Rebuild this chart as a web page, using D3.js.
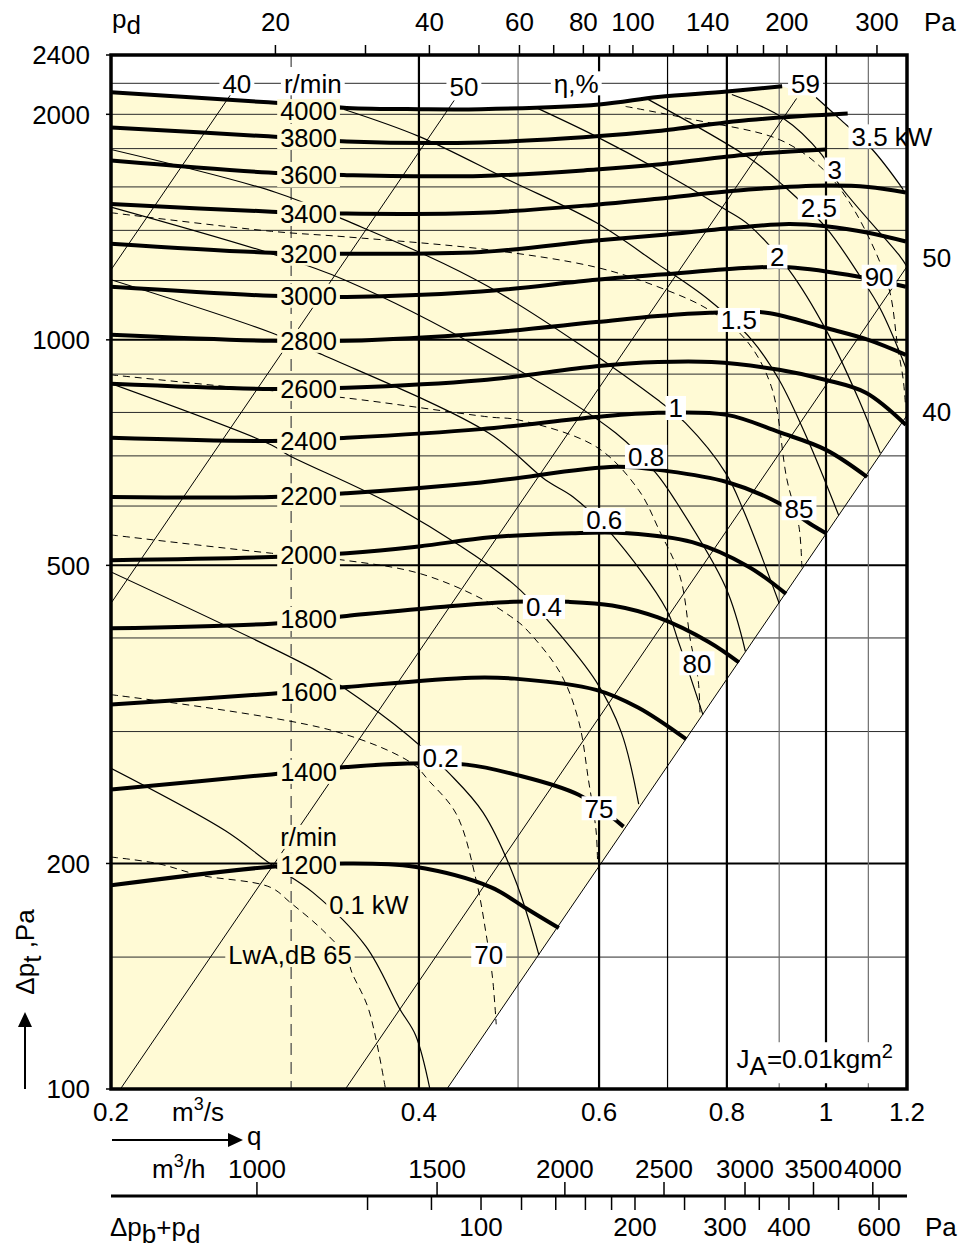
<!DOCTYPE html>
<html>
<head>
<meta charset="utf-8">
<script src="https://cdn.jsdelivr.net/npm/d3@7"></script>
<style>
  body { margin: 0; background: #fff; }
  text { font-family: "Liberation Sans", Arial, sans-serif; fill: #000; }
</style>
</head>
<body>
<svg id="chart" width="977" height="1249"></svg>
<script>
// ---- axes / ticks ----
const qLabels = [0.2, 0.4, 0.6, 0.8, 1, 1.2]
const qGrid = [0.3, 0.4, 0.5, 0.6, 0.7, 0.8, 0.9, 1.0, 1.1]
const pLabels = [100, 200, 500, 1000, 2000, 2400]
const pGrid = [150, 200, 300, 400, 500, 600, 700, 800, 900, 1000, 1200, 1400, 1600, 1800, 2000, 2200]
const pdTicks = [20, 30, 40, 50, 60, 70, 80, 90, 100, 120, 140, 160, 180, 200, 250, 300]
const pdLabels = [20, 40, 60, 80, 100, 140, 200, 300]
const flowLabels = [1000, 1500, 2000, 2500, 3000, 3500, 4000]
const dpbTicks = [60, 80, 100, 120, 140, 160, 180, 200, 250, 300, 350, 400, 500, 600]
const dpbLabels = [100, 200, 300, 400, 600]
const pdFactor = 238.5 // p_d = factor * q^2
const dpbFactor = 472.6 // dp_b + p_d = factor * q^2

// ---- fan curves [q m3/s, dp Pa] ----
const rpmSpeeds = [4000, 3800, 3600, 3400, 3200, 3000, 2800, 2600, 2400, 2200, 2000, 1800, 1600, 1400, 1200]
const rpmLabelP = [2020, 1863, 1659, 1474, 1303, 1145, 997, 860, 733, 620, 516, 424, 339, 265, 199]
const rpm4000 = [[0.2, 2140], [0.285, 2075], [0.34, 2040], [0.40, 2032], [0.46, 2032], [0.60, 2062], [0.685, 2110], [0.80, 2145], [0.906, 2180]]
const rpm3800 = [[0.2, 1921], [0.285, 1869], [0.34, 1840], [0.46, 1834], [0.596, 1869], [0.685, 1900], [0.84, 1965], [1.05, 2005]]
const rpm3600 = [[0.2, 1735], [0.285, 1672], [0.34, 1659], [0.46, 1655], [0.596, 1688], [0.685, 1714], [0.84, 1768], [1.0, 1795]]
const rpm3400 = [[0.2, 1518], [0.287, 1483], [0.34, 1474], [0.46, 1478], [0.596, 1515], [0.685, 1543], [0.84, 1587], [1.0, 1607], [1.1, 1600], [1.197, 1573]]
const rpm3200 = [[0.2, 1344], [0.287, 1307], [0.34, 1303], [0.46, 1310], [0.596, 1357], [0.685, 1379], [0.82, 1412], [0.92, 1428], [1.0, 1418], [1.1, 1390], [1.197, 1353]]
const rpm3000 = [[0.2, 1177], [0.287, 1145], [0.34, 1141], [0.46, 1160], [0.596, 1203], [0.69, 1222], [0.84, 1248], [0.92, 1250], [1.077, 1214], [1.197, 1177]]
const rpm2800 = [[0.2, 1016], [0.287, 997], [0.34, 997], [0.46, 1020], [0.596, 1056], [0.685, 1076], [0.77, 1087], [0.874, 1087], [1.0, 1037], [1.1, 1000], [1.197, 955]]
const rpm2600 = [[0.2, 874], [0.287, 860], [0.34, 863], [0.46, 883], [0.596, 922], [0.685, 934], [0.773, 934], [0.9, 912], [1.0, 884], [1.094, 850], [1.197, 770]]
const rpm2400 = [[0.2, 740], [0.287, 733], [0.34, 740], [0.46, 760], [0.596, 789], [0.685, 799], [0.8, 794], [0.9, 753], [1.0, 713], [1.097, 656]]
const rpm2200 = [[0.2, 617], [0.287, 617], [0.34, 624], [0.46, 645], [0.623, 677], [0.70, 668], [0.8, 646], [0.896, 607], [0.969, 566], [1.0, 552]]
const rpm2000 = [[0.2, 508], [0.287, 513], [0.34, 519], [0.40, 530], [0.47, 545], [0.564, 552], [0.64, 552], [0.74, 537], [0.84, 498], [0.914, 458]]
const rpm1800 = [[0.2, 412], [0.287, 418], [0.34, 428], [0.42, 440], [0.495, 447], [0.56, 447], [0.618, 442], [0.685, 426], [0.768, 395], [0.822, 371]]
const rpm1600 = [[0.2, 326], [0.287, 337], [0.34, 344], [0.45, 354], [0.496, 353], [0.596, 341], [0.655, 323], [0.73, 293]]
const rpm1400 = [[0.2, 251], [0.287, 263], [0.34, 269], [0.39, 272], [0.445, 271], [0.496, 263], [0.573, 247], [0.634, 224]]
const rpm1200 = [[0.2, 187], [0.287, 198], [0.34, 200], [0.396, 198], [0.47, 186], [0.51, 174], [0.548, 164]]
const rpmCurves = [rpm4000, rpm3800, rpm3600, rpm3400, rpm3200, rpm3000, rpm2800, rpm2600, rpm2400, rpm2200, rpm2000, rpm1800, rpm1600, rpm1400, rpm1200]

// ---- efficiency lines (eta %) ----
const eff40L = [[0.2, 1240], [0.262, 2128]]
const eff50L = [[0.2, 445], [0.433, 2087]]
const eff59 = [[0.2043, 100], [0.936, 2100]]
const eff50R = [[0.339, 100], [1.2, 1253]]
const eff40R = [[0.426, 100], [1.2, 793]]
const effLines = [eff40L, eff50L, eff59, eff50R, eff40R]

// ---- shaft power lines (kW) ----
const pw01 = [[0.2, 268], [0.259, 221], [0.286, 200], [0.315, 183], [0.355, 155], [0.383, 128], [0.397, 118], [0.41, 100]]
const pw02 = [[0.2, 490], [0.315, 364], [0.338, 343], [0.391, 296], [0.428, 264], [0.462, 234], [0.497, 190], [0.524, 151]]
const pw04 = [[0.2, 874], [0.287, 724], [0.298, 702], [0.382, 596], [0.495, 472], [0.538, 418], [0.596, 350], [0.631, 299], [0.656, 240]]
const pw06 = [[0.2, 1203], [0.287, 1022], [0.322, 955], [0.468, 751], [0.532, 650], [0.566, 617], [0.616, 552], [0.698, 437], [0.718, 394], [0.758, 316]]
const pw08 = [[0.2, 1504], [0.287, 1303], [0.338, 1203], [0.468, 961], [0.623, 751], [0.682, 664], [0.712, 611], [0.798, 467], [0.834, 384]]
const pw10 = [[0.2, 1795], [0.29, 1573], [0.338, 1447], [0.468, 1177], [0.685, 831], [0.729, 774], [0.798, 664], [0.83, 593], [0.9, 445]]
const pw15 = [[0.338, 2030], [0.40, 1869], [0.489, 1636], [0.596, 1434], [0.685, 1262], [0.768, 1131], [0.846, 1000], [0.90, 884], [0.96, 735], [1.029, 583]]
const pw20 = [[0.52, 2043], [0.596, 1869], [0.685, 1688], [0.798, 1492], [0.84, 1425], [0.92, 1240], [1.0, 1031], [1.077, 831], [1.13, 706]]
const pw25 = [[0.67, 2094], [0.84, 1751], [0.906, 1612], [1.0, 1412], [1.077, 1222], [1.13, 1100], [1.2, 910]]
const pw30 = [[0.809, 2126], [0.906, 1981], [0.99, 1768], [1.03, 1612], [1.178, 1299], [1.2, 1252]]
const pw35 = [[0.978, 2106], [1.03, 1975], [1.11, 1795], [1.19, 1587]]
const powerLines = [pw01, pw02, pw04, pw06, pw08, pw10, pw15, pw20, pw25, pw30, pw35]

// ---- sound power lines LwA dB ----
const db65 = [[0.2, 204], [0.222, 200], [0.244, 193], [0.286, 186], [0.3, 177], [0.322, 163], [0.34, 150], [0.344, 143], [0.357, 128], [0.371, 100]]
const db70 = [[0.2, 336], [0.329, 301], [0.394, 272], [0.409, 258], [0.435, 233], [0.455, 190], [0.466, 159], [0.472, 141], [0.476, 122]]
const db75 = [[0.2, 549], [0.287, 519], [0.338, 508], [0.40, 488], [0.461, 451], [0.498, 422], [0.51, 410], [0.55, 359], [0.573, 310], [0.586, 258], [0.596, 221], [0.598, 200]]
const db80 = [[0.2, 898], [0.26, 866], [0.338, 837], [0.468, 789], [0.50, 782], [0.596, 720], [0.656, 630], [0.687, 557], [0.72, 483], [0.737, 397], [0.75, 351], [0.753, 317]]
const db85 = [[0.2, 1478], [0.287, 1396], [0.338, 1373], [0.468, 1319], [0.596, 1250], [0.685, 1177], [0.768, 1097], [0.835, 1000], [0.884, 867], [0.916, 650], [0.941, 563], [0.947, 497]]
const db90 = [[0.637, 2049], [0.74, 1969], [0.90, 1851], [0.987, 1703], [1.05, 1539], [1.12, 1303], [1.155, 1156], [1.175, 980], [1.19, 884], [1.196, 817]]
const soundLines = [db65, db70, db75, db80, db85, db90]

// ---- curve labels [text, q, p] ----
const powerTags = [['0.2', 0.42, 277], ['0.4', 0.53, 440], ['0.6', 0.607, 575], ['0.8', 0.667, 698], ['1', 0.713, 811], ['1.5', 0.822, 1063], ['2', 0.896, 1291], ['2.5', 0.984, 1502], ['3', 1.02, 1688], ['3.5 kW', 1.16, 1869]]
const soundTags = [['70', 0.468, 151], ['75', 0.60, 237], ['80', 0.748, 370], ['85', 0.941, 596], ['90', 1.127, 1214]]
const etaTags = [['40', 0.2655, 2200], ['r/min', 0.315, 2200], ['50', 0.4426, 2180], ['η,%', 0.570, 2200], ['59', 0.955, 2200]]
const sideTags = [['50', 1.283, 1287], ['40', 1.283, 802]]
const lowTags = [['r/min', 0.312, 217], ['0.1 kW', 0.3574, 176], ['LwA,dB 65', 0.2992, 151]]

const fillColor = '#fffad5'
const svg = d3.select('#chart')
const x = d3.scaleLog().domain([0.2, 1.2]).range([111, 907])
const y = d3.scaleLog().domain([100, 2400]).range([1089, 55])
const smooth = d3.line().x(d => x(d[0])).y(d => y(d[1])).curve(d3.curveCatmullRom.alpha(0.5))
const straight = d3.line().x(d => x(d[0])).y(d => y(d[1]))

svg.append('defs').append('clipPath').attr('id', 'plot')
  .append('rect').attr('x', x(0.2)).attr('y', y(2400))
  .attr('width', x(1.2) - x(0.2)).attr('height', y(100) - y(2400))

// yellow operating area
const lastPw = pw35[pw35.length - 1]
const areaPath = smooth(rpm4000) + smooth(pw35).replace(/^M/, 'L') +
  'L' + x(1.2) + ',' + y(lastPw[1]) +
  'L' + x(eff40R[1][0]) + ',' + y(eff40R[1][1]) +
  'L' + x(eff40R[0][0]) + ',' + y(100) +
  'L' + x(0.2) + ',' + y(100) + 'Z'
svg.append('path').attr('d', areaPath).attr('fill', fillColor)

// grid
const grid = svg.append('g')
const pBold = [200, 500, 1000]
grid.selectAll('.hg').data(pGrid).join('line')
  .attr('x1', x(0.2)).attr('x2', x(1.2))
  .attr('y1', d => y(d)).attr('y2', d => y(d))
  .attr('stroke', d => pBold.includes(d) ? '#000' : '#2a2a2a')
  .attr('stroke-width', d => pBold.includes(d) ? 2 : 1)
const qBold = [0.4, 0.6, 0.8, 1.0]
const qGray = [0.5, 0.9, 1.1]
grid.selectAll('.vg').data(qGrid).join('line')
  .attr('x1', d => x(d)).attr('x2', d => x(d))
  .attr('y1', y(2400)).attr('y2', y(100))
  .attr('stroke', d => qGray.includes(d) ? '#6e6e6e' : (d === 0.3 ? '#444' : '#000'))
  .attr('stroke-width', d => qBold.includes(d) ? 2.2 : 1.2)
  .attr('stroke-dasharray', d => d === 0.3 ? '12,7' : null)

const curves = svg.append('g').attr('clip-path', 'url(#plot)')

curves.selectAll('.eff').data(effLines).join('path')
  .attr('d', straight).attr('fill', 'none').attr('stroke', '#000').attr('stroke-width', 1)

curves.selectAll('.db').data(soundLines).join('path')
  .attr('d', smooth).attr('fill', 'none').attr('stroke', '#000')
  .attr('stroke-width', 1).attr('stroke-dasharray', '7,5')

curves.selectAll('.pw').data(powerLines).join('path')
  .attr('d', smooth).attr('fill', 'none').attr('stroke', '#000').attr('stroke-width', 1.2)

curves.selectAll('.rpm').data(rpmCurves).join('path')
  .attr('d', smooth).attr('fill', 'none').attr('stroke', '#000')
  .attr('stroke-width', 4).attr('stroke-linecap', 'butt')

// label with background box
const tags = svg.append('g')
function tag (txt, q, p, bg, size) {
  const t = tags.append('text')
    .attr('x', x(q)).attr('y', y(p)).attr('dy', '0.36em')
    .attr('text-anchor', 'middle').attr('font-size', size || 26).text(txt)
  const b = t.node().getBBox()
  if (bg) {
    tags.insert('rect', () => t.node())
      .attr('x', b.x - 3).attr('y', y(p) - 12)
      .attr('width', b.width + 6).attr('height', 24).attr('fill', bg)
  }
}
rpmSpeeds.forEach((s, i) => tag(String(s), 0.312, rpmLabelP[i], fillColor, 25.5))
powerTags.forEach(d => tag(d[0], d[1], d[2], '#fff'))
soundTags.forEach(d => tag(d[0], d[1], d[2], '#fff'))
etaTags.forEach(d => tag(d[0], d[1], d[2], '#fff'))
lowTags.forEach(d => tag(d[0], d[1], d[2], fillColor, 25.5))
sideTags.forEach(d => tag(d[0], d[1], d[2], null))

// J_A note
const ja = tags.append('text').attr('x', x(0.975)).attr('y', y(109.7)).attr('dy', '0.36em')
  .attr('text-anchor', 'middle').attr('font-size', 26)
ja.append('tspan').text('J')
ja.append('tspan').attr('dy', 7).text('A')
ja.append('tspan').attr('dy', -7).text('=0.01kgm')
ja.append('tspan').attr('dy', -10).attr('font-size', 20).text('2')
const jb = ja.node().getBBox()
tags.insert('rect', () => ja.node()).attr('x', jb.x - 4).attr('y', jb.y + 2)
  .attr('width', jb.width + 8).attr('height', jb.height).attr('fill', '#fff')

// frame
svg.append('rect').attr('x', x(0.2)).attr('y', y(2400))
  .attr('width', x(1.2) - x(0.2)).attr('height', y(100) - y(2400))
  .attr('fill', 'none').attr('stroke', '#000').attr('stroke-width', 3.5)

// left axis
const axis = svg.append('g')
pLabels.forEach(v => {
  axis.append('text').attr('x', 90).attr('y', y(v)).attr('dy', '0.36em')
    .attr('text-anchor', 'end').attr('font-size', 26).text(v)
  axis.append('line').attr('x1', x(0.2) - 5).attr('x2', x(0.2))
    .attr('y1', y(v)).attr('y2', y(v)).attr('stroke', '#000').attr('stroke-width', 1.5)
})

// bottom axis q
qLabels.forEach(v => {
  axis.append('text').attr('x', x(v)).attr('y', 1121)
    .attr('text-anchor', 'middle').attr('font-size', 26).text(v)
})
const ms = axis.append('text').attr('x', 172).attr('y', 1121).attr('font-size', 26)
ms.append('tspan').text('m')
ms.append('tspan').attr('dy', -11).attr('font-size', 18).text('3')
ms.append('tspan').attr('dy', 11).text('/s')

axis.append('line').attr('x1', 112).attr('x2', 230).attr('y1', 1140).attr('y2', 1140)
  .attr('stroke', '#000').attr('stroke-width', 2)
axis.append('path').attr('d', 'M228,1133L243,1140L228,1147Z').attr('fill', '#000')
axis.append('text').attr('x', 247).attr('y', 1145).attr('font-size', 26).text('q')

// m3/h scale
const mh = axis.append('text').attr('x', 152).attr('y', 1178).attr('font-size', 26)
mh.append('tspan').text('m')
mh.append('tspan').attr('dy', -11).attr('font-size', 18).text('3')
mh.append('tspan').attr('dy', 11).text('/h')
flowLabels.forEach(v => {
  const xx = x(v / 3600)
  axis.append('text').attr('x', xx).attr('y', 1178).attr('text-anchor', 'middle')
    .attr('font-size', 26).text(v)
  axis.append('line').attr('x1', xx).attr('x2', xx).attr('y1', 1182).attr('y2', 1196)
    .attr('stroke', '#000').attr('stroke-width', 1.5)
})
axis.append('line').attr('x1', x(0.2)).attr('x2', x(1.2)).attr('y1', 1196).attr('y2', 1196)
  .attr('stroke', '#000').attr('stroke-width', 3)

// dp_b + p_d scale
dpbTicks.forEach(v => {
  const xx = x(Math.sqrt(v / dpbFactor))
  axis.append('line').attr('x1', xx).attr('x2', xx).attr('y1', 1196).attr('y2', 1210)
    .attr('stroke', '#000').attr('stroke-width', 1.5)
})
dpbLabels.forEach(v => {
  axis.append('text').attr('x', x(Math.sqrt(v / dpbFactor))).attr('y', 1236)
    .attr('text-anchor', 'middle').attr('font-size', 26).text(v)
})
axis.append('text').attr('x', 925).attr('y', 1236).attr('font-size', 26).text('Pa')
const dpb = axis.append('text').attr('x', 110).attr('y', 1236).attr('font-size', 26)
dpb.append('tspan').text('Δp')
dpb.append('tspan').attr('dy', 7).text('b')
dpb.append('tspan').attr('dy', -7).text('+p')
dpb.append('tspan').attr('dy', 7).text('d')

// top p_d scale
pdTicks.forEach(v => {
  const xx = x(Math.sqrt(v / pdFactor))
  axis.append('line').attr('x1', xx).attr('x2', xx).attr('y1', 45).attr('y2', 55)
    .attr('stroke', '#000').attr('stroke-width', 1.5)
})
pdLabels.forEach(v => {
  axis.append('text').attr('x', x(Math.sqrt(v / pdFactor))).attr('y', 31)
    .attr('text-anchor', 'middle').attr('font-size', 26).text(v)
})
axis.append('text').attr('x', 924).attr('y', 31).attr('font-size', 26).text('Pa')
const pd = axis.append('text').attr('x', 112).attr('y', 28).attr('font-size', 26)
pd.append('tspan').text('p')
pd.append('tspan').attr('dy', 6).text('d')

// y title with arrow
const yt = axis.append('text').attr('transform', 'translate(34,952) rotate(-90)')
  .attr('text-anchor', 'middle').attr('font-size', 26)
yt.append('tspan').text('Δp')
yt.append('tspan').attr('dy', 7).text('t')
yt.append('tspan').attr('dy', -7).text(' ,Pa')
axis.append('line').attr('x1', 25).attr('x2', 25).attr('y1', 1089).attr('y2', 1025)
  .attr('stroke', '#000').attr('stroke-width', 2)
axis.append('path').attr('d', 'M18,1027L25,1012L32,1027Z').attr('fill', '#000')
</script>
</body>
</html>
